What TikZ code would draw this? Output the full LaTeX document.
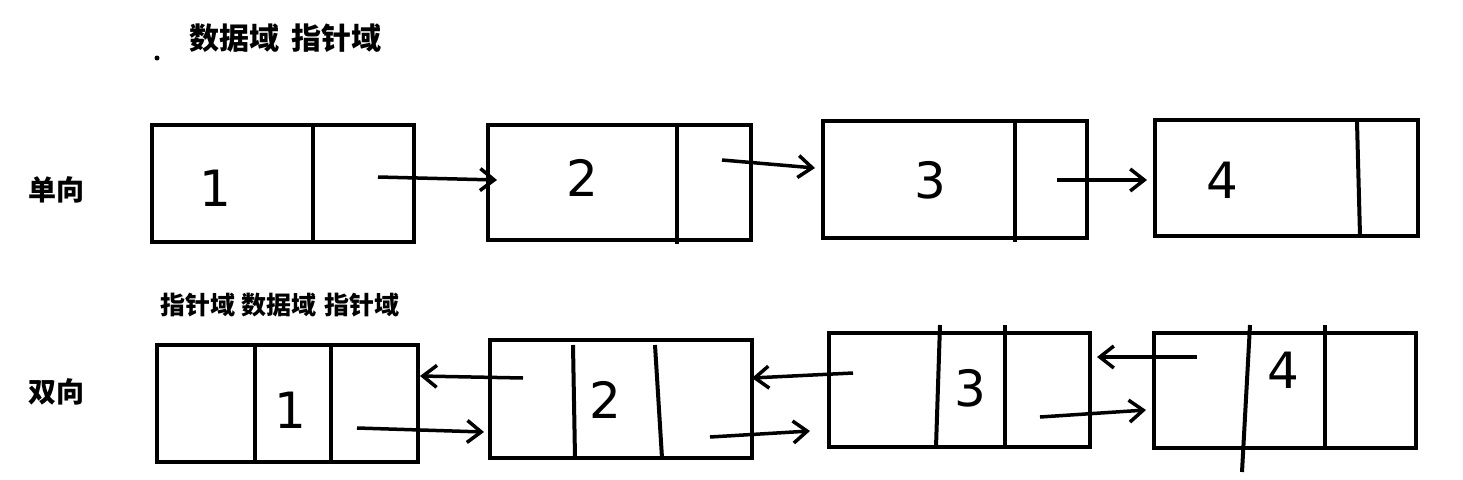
\documentclass[tikz,border=0pt]{standalone}
\usepackage{fontspec}
\setmainfont{DejaVu Sans}
\newfontfamily\cjk{Noto Sans CJK SC}
\usetikzlibrary{arrows.meta}
\begin{document}
\begin{tikzpicture}[x=1pt,y=-1pt,
  box/.style={draw,line width=4pt},
  arr/.style={line width=3.5pt,-{Straight Barb[length=14pt,width=22pt,line width=3.5pt]}},
  dig/.style={font=\fontsize{50}{50}\selectfont},
  lab/.style={font=\cjk\bfseries\fontsize{28}{28}\selectfont}]
\useasboundingbox (0,0) rectangle (1463,479);
\fill[white] (0,0) rectangle (1463,479);
\node[lab,anchor=west,font=\cjk\bfseries\fontsize{30}{30}\selectfont] (t1) at (186,38) {数据域\hspace{12pt}指针域};
\fill (157,58) circle (2.5);
\node[lab] (s) at (56,190) {单向};
\node[lab] (d) at (56,392) {双向};
\node[lab,font=\cjk\bfseries\fontsize{25}{25}\selectfont,anchor=west] (t2) at (157,305) {指针域\hspace{6pt}数据域\hspace{8pt}指针域};
% single
\draw[box] (152,125) rectangle (414,242); \draw[box] (313,125)--(313,244);
\draw[box] (488,125) rectangle (751,240); \draw[box] (677,125)--(677,244);
\draw[box] (823,121) rectangle (1087,238); \draw[box] (1015,121)--(1015,242);
\draw[box] (1155,120) rectangle (1418,236); \draw[box] (1357,122)--(1360,236);
\node[dig] (n1) at (215,188) {1};
\node[dig] (n2) at (582,178) {2};
\node[dig] (n3) at (930,180) {3};
\node[dig] (n4) at (1222,180) {4};
\coordinate (a1) at (378,177); \coordinate (b1) at (497,180);
\coordinate (a2) at (722,160); \coordinate (b2) at (815,168);
\coordinate (a3) at (1057,180); \coordinate (b3) at (1147,180);
\draw[arr] (a1)--(b1); \draw[arr] (a2)--(b2); \draw[arr] (a3)--(b3);
% double
\draw[box] (157,345) rectangle (418,462); \draw[box] (255,345)--(255,462); \draw[box] (331,345)--(331,462);
\draw[box] (490,340) rectangle (752,458); \draw[box] (573,345)--(575,458); \draw[box] (655,345)--(662,458);
\draw[box] (829,333) rectangle (1090,447); \draw[box] (940,325)--(936,447); \draw[box] (1005,325)--(1005,447);
\draw[box] (1154,333) rectangle (1416,448); \draw[box] (1250,325)--(1242,472); \draw[box] (1325,325)--(1325,448);
\node[dig] (m1) at (290,410) {1};
\node[dig] (m2) at (605,400) {2};
\node[dig] (m3) at (970,388) {3};
\node[dig] (m4) at (1283,370) {4};
\coordinate (c1) at (523,378); \coordinate (e1) at (420,376);
\coordinate (c2) at (853,373); \coordinate (e2) at (752,378);
\coordinate (c3) at (1197,357); \coordinate (e3) at (1097,357);
\draw[arr] (c1)--(e1); \draw[arr] (c2)--(e2); \draw[arr] (c3)--(e3);
\coordinate (f1) at (357,428); \coordinate (g1) at (484,432);
\coordinate (f2) at (710,437); \coordinate (g2) at (810,431);
\coordinate (f3) at (1040,417); \coordinate (g3) at (1146,410);
\draw[arr] (f1)--(g1); \draw[arr] (f2)--(g2); \draw[arr] (f3)--(g3);
\end{tikzpicture}
\end{document}
